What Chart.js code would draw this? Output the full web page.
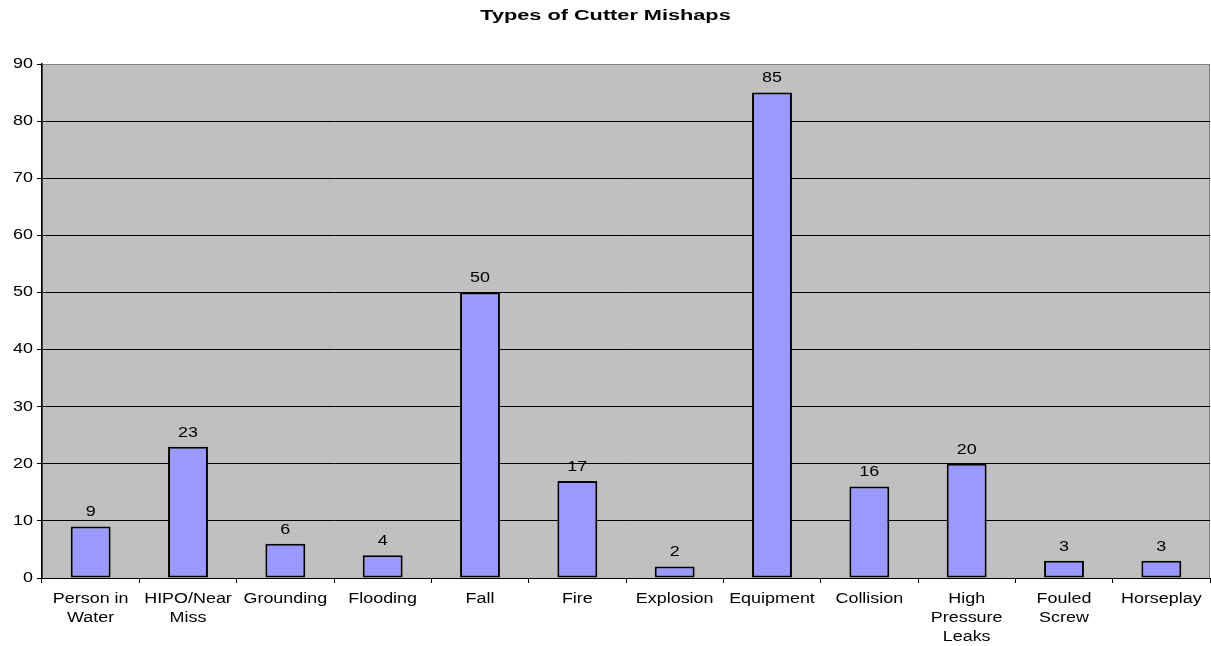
<!DOCTYPE html>
<html>
<head>
<meta charset="utf-8">
<script src="https://cdn.jsdelivr.net/npm/chart.js@4/dist/chart.umd.min.js"></script>
<style>
  html, body { margin:0; padding:0; background:#fff; }
  #wrap { width:1211px; height:646px; position:relative; }
</style>
</head>
<body>
<div id="wrap"><canvas id="c"></canvas></div>
<script>
// mishap categories (multi-line ones split the way they wrap under the axis)
const CATEGORIES = [
  ["Person in", "Water"], ["HIPO/Near", "Miss"], "Grounding", "Flooding", "Fall", "Fire",
  "Explosion", "Equipment", "Collision", ["High", "Pressure", "Leaks"], ["Fouled", "Screw"], "Horseplay"
];
const COUNTS = [9, 23, 6, 4, 50, 17, 2, 85, 16, 20, 3, 3];
const Y_MAX = 90;
const Y_STEP = 10;
const TITLE = "Types of Cutter Mishaps";

const FONT = "Arial, 'Liberation Sans', sans-serif";
const TEXT_FONT = "14px " + FONT;
const TITLE_FONT = "bold 14px " + FONT;
const STRETCH = 1.28;       // the old export draws its text wide
const TITLE_STRETCH = 1.55;

// text stretched horizontally around its anchor point
function wideText(ctx, str, x, y, font, sx, align, baseline){
  ctx.save();
  ctx.translate(x, y);
  ctx.scale(sx, 1);
  ctx.font = font;
  ctx.fillStyle = "#000";
  ctx.textAlign = align;
  ctx.textBaseline = baseline;
  ctx.fillText(str, 0, 0);
  ctx.restore();
}

// grey plot area with a thin grey frame, plus the bold title
const frame = {
  id: "frame",
  beforeDraw(chart){
    const { ctx, chartArea: a } = chart;
    ctx.save();
    ctx.fillStyle = "#c0c0c0";
    ctx.fillRect(a.left, a.top, a.right - a.left, a.bottom - a.top);
    ctx.strokeStyle = "#808080";
    ctx.lineWidth = 1;
    ctx.strokeRect(a.left + 0.5, a.top + 0.5, a.right - a.left - 1, a.bottom - a.top);
    ctx.restore();
    wideText(ctx, TITLE, chart.width / 2, 20, TITLE_FONT, TITLE_STRETCH, "center", "alphabetic");
  }
};

// axis labels and the value printed above every bar
const labels = {
  id: "labels",
  afterDraw(chart){
    const { ctx, scales: { x, y } } = chart;

    y.ticks.forEach(t => {
      wideText(ctx, String(t.value), y.right - 9, y.getPixelForValue(t.value), TEXT_FONT, STRETCH, "right", "middle");
    });

    CATEGORIES.forEach((cat, i) => {
      const lines = Array.isArray(cat) ? cat : [cat];
      const cx = x.getPixelForTick(i);
      lines.forEach((ln, k) => {
        wideText(ctx, ln, cx, x.top + 25 + k * 19, TEXT_FONT, STRETCH, "center", "alphabetic");
      });
    });

    chart.getDatasetMeta(0).data.forEach((bar, i) => {
      wideText(ctx, String(COUNTS[i]), bar.x, bar.y - 14, TEXT_FONT, STRETCH, "center", "middle");
    });
  }
};

new Chart(document.getElementById("c"), {
  type: "bar",
  data: {
    labels: CATEGORIES,
    datasets: [{
      data: COUNTS,
      backgroundColor: "#9999ff",
      borderColor: "#000",
      borderWidth: 2,
      borderSkipped: false,
      categoryPercentage: 1,
      barPercentage: 0.41
    }]
  },
  options: {
    responsive: true,
    maintainAspectRatio: false,
    animation: false,
    layout: { padding: { top: 64, right: 1, left: 0, bottom: 0 } },
    plugins: { legend: { display: false }, tooltip: { enabled: false }, title: { display: false } },
    scales: {
      x: {
        offset: true,
        grid: { display: true, drawOnChartArea: false, offset: true, color: "#000", tickLength: 5 },
        border: { color: "#000", width: 1 },
        ticks: { display: false, autoSkip: false },
        afterFit(scale){ scale.height = 68; }
      },
      y: {
        min: 0, max: Y_MAX,
        grid: {
          color: ctx => ctx.tick && ctx.tick.value === Y_MAX ? "#808080" : "#000",
          tickColor: "#000",
          tickLength: 5
        },
        border: { color: "#000", width: 1.5 },
        ticks: { display: false, stepSize: Y_STEP },
        afterFit(scale){ scale.width = 42; }
      }
    }
  },
  plugins: [frame, labels]
});
</script>
</body>
</html>
